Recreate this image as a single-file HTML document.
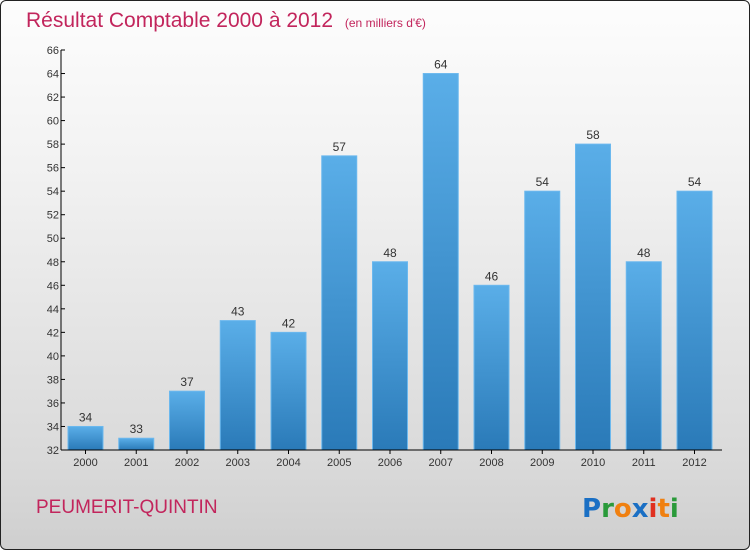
<!DOCTYPE html>
<html><head><meta charset="utf-8"><style>
body{margin:0;width:750px;height:550px;overflow:hidden;font-family:"Liberation Sans",sans-serif}
#frame{position:absolute;left:0;top:0;width:748px;height:548px;border:1px solid #222;border-radius:6px;background:linear-gradient(#fdfdfd,#f2f2f2 30%,#d9d9d9 85%,#cfcfcf)}
</style></head><body>
<div id="frame"></div>
<svg id="c" width="750" height="550" style="position:absolute;left:0;top:0">
<defs><linearGradient id="bg" x1="0" y1="0" x2="0" y2="1"><stop offset="0" stop-color="#5aaee8"/><stop offset="1" stop-color="#2a7ab8"/></linearGradient></defs>
<text x="26" y="27" font-size="21" fill="#c2255c">Résultat Comptable 2000 à 2012 <tspan font-size="12" dx="6">(en milliers d'€)</tspan></text>
<text x="36" y="513" font-size="19" fill="#c2255c">PEUMERIT-QUINTIN</text>
<g font-size="26" font-weight="bold" font-family="'DejaVu Sans',sans-serif">
<text x="582" y="517"><tspan fill="#1a6fc4">P</tspan><tspan fill="#2a9a3a">r</tspan><tspan fill="#f08010">o</tspan><tspan fill="#1a6fc4">x</tspan><tspan fill="#e03020">i</tspan><tspan fill="#f08010">t</tspan><tspan fill="#2a9a3a">i</tspan></text></g>
<g id="g"></g>
</svg>
<script>
const years=["2000","2001","2002","2003","2004","2005","2006","2007","2008","2009","2010","2011","2012"];
const values=[34,33,37,43,42,57,48,64,46,54,58,48,54];
const ticks=[32,34,36,38,40,42,44,46,48,50,52,54,56,58,60,62,64,66];
const y0=450,y1=50,vmin=32,vmax=66,axX=61;
const y=v=>y0-(v-vmin)*(y0-y1)/(vmax-vmin);
const x=i=>68+i*50.75;
const g=document.getElementById('g');const NS='http://www.w3.org/2000/svg';
function mk(t,a,txt){const e=document.createElementNS(NS,t);for(const k in a)e.setAttribute(k,a[k]);if(txt!=null)e.textContent=txt;g.appendChild(e);return e;}
values.forEach((v,i)=>{
const r=mk('rect',{x:x(i),y:y(v),width:35,height:y0-y(v),fill:'url(#bg)',stroke:'#6bb8ee','stroke-width':1});


const l=mk('text',{x:x(i)+17.5,y:y(v)-5,'font-size':12,fill:'#333','text-anchor':'middle'},v);


const xl=mk('text',{x:x(i)+17.5,y:466,'font-size':11,fill:'#333','text-anchor':'middle'},years[i]);


mk('line',{x1:x(i)+17.5,x2:x(i)+17.5,y1:450,y2:454,stroke:'#000'});
});
ticks.forEach(t=>{
mk('line',{x1:axX,x2:axX+4,y1:y(t),y2:y(t),stroke:'#000'});
const tl=mk('text',{x:axX-2,y:y(t)+4,'font-size':11,fill:'#333','text-anchor':'end'},t);


});
const ya=mk('line',{x1:axX,x2:axX,y1:50,y2:450,stroke:'#000'});


const xa=mk('line',{x1:axX,x2:722,y1:450,y2:450,stroke:'#000'});


</script>
</body></html>
